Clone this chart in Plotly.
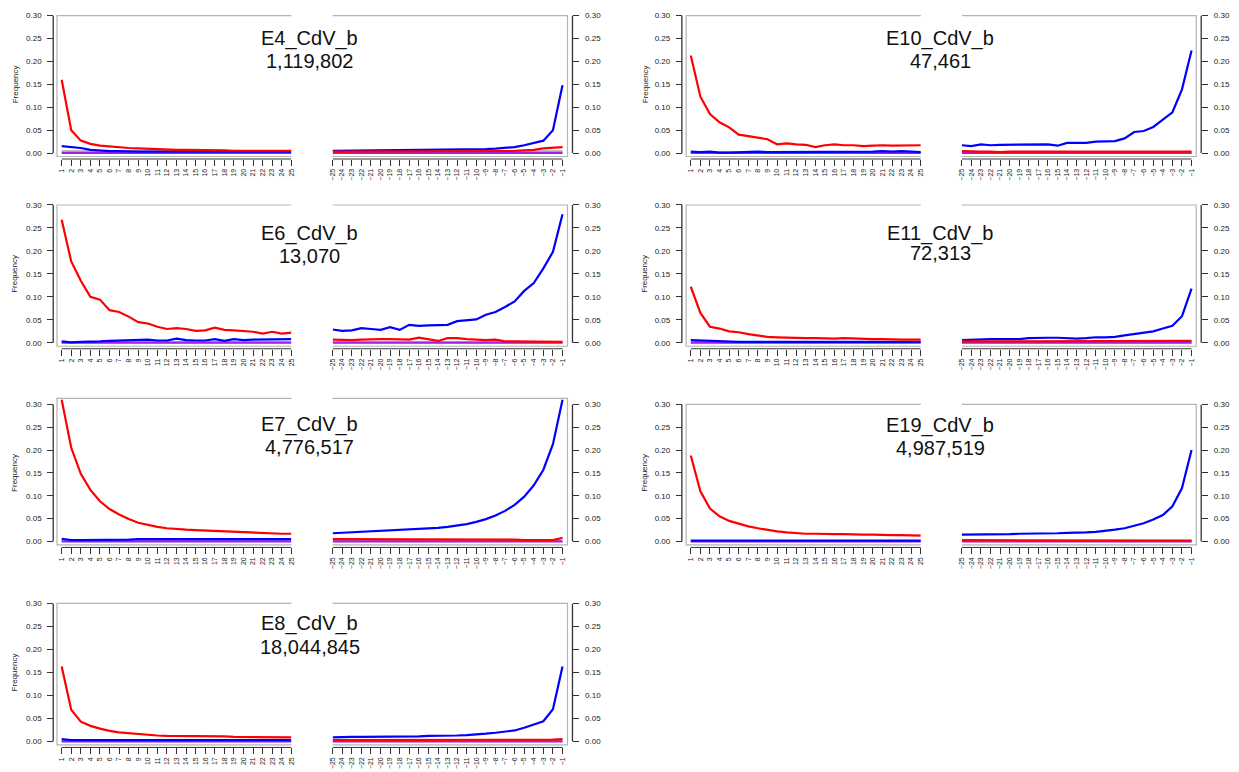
import plotly.graph_objects as go

# ---------------- data ----------------
pos_5p = [1, 2, 3, 4, 5, 6, 7, 8, 9, 10, 11, 12, 13, 14, 15, 16, 17, 18, 19, 20, 21, 22, 23, 24, 25]
pos_3p = [-25, -24, -23, -22, -21, -20, -19, -18, -17, -16, -15, -14, -13, -12, -11, -10, -9, -8, -7, -6, -5, -4, -3, -2, -1]
labels_5p = [str(v) for v in pos_5p]
labels_3p = ["\u2212" + str(-v) for v in pos_3p]
y_ticks = [0.0, 0.05, 0.10, 0.15, 0.20, 0.25, 0.30]
y_ticklabels = ["0.00", "0.05", "0.10", "0.15", "0.20", "0.25", "0.30"]

sample_names = ["E4_CdV_b", "E10_CdV_b", "E6_CdV_b", "E11_CdV_b", "E7_CdV_b", "E19_CdV_b", "E8_CdV_b"]
read_counts = ["1,119,802", "47,461", "13,070", "72,313", "4,776,517", "4,987,519", "18,044,845"]

# E4
e4_red_5p = [0.160, 0.050, 0.027, 0.020, 0.016, 0.014, 0.012, 0.011, 0.010, 0.009, 0.008, 0.008, 0.007, 0.007, 0.007, 0.006, 0.006, 0.006, 0.005, 0.005, 0.005, 0.005, 0.005, 0.005, 0.005]
e4_blue_5p = [0.015, 0.013, 0.011, 0.007, 0.005, 0.004, 0.004, 0.003, 0.003, 0.003, 0.003, 0.003, 0.003, 0.003, 0.003, 0.003, 0.003, 0.003, 0.003, 0.003, 0.003, 0.003, 0.003, 0.003, 0.003]
e4_grey_5p = [0.004, 0.004, 0.004, 0.004, 0.004, 0.004, 0.004, 0.004, 0.004, 0.004, 0.004, 0.004, 0.004, 0.004, 0.004, 0.004, 0.004, 0.004, 0.004, 0.004, 0.004, 0.004, 0.004, 0.004, 0.004]
e4_purple_5p = [0.0004, 0.0004, 0.0004, 0.0004, 0.0004, 0.0004, 0.0004, 0.0004, 0.0004, 0.0004, 0.0004, 0.0004, 0.0004, 0.0004, 0.0004, 0.0004, 0.0004, 0.0004, 0.0004, 0.0004, 0.0004, 0.0004, 0.0004, 0.0004, 0.0004]
e4_red_3p = [0.003, 0.003, 0.003, 0.003, 0.003, 0.003, 0.003, 0.003, 0.003, 0.003, 0.003, 0.003, 0.003, 0.003, 0.003, 0.003, 0.003, 0.003, 0.004, 0.0045, 0.006, 0.007, 0.010, 0.012, 0.013]
e4_blue_3p = [0.0045, 0.0047, 0.0048, 0.005, 0.005, 0.0052, 0.0053, 0.0055, 0.0056, 0.0058, 0.006, 0.0062, 0.0065, 0.0068, 0.007, 0.0075, 0.0085, 0.0095, 0.011, 0.013, 0.017, 0.022, 0.027, 0.050, 0.148]
e4_grey_3p = [0.004, 0.004, 0.004, 0.004, 0.004, 0.004, 0.004, 0.004, 0.004, 0.004, 0.004, 0.004, 0.004, 0.004, 0.004, 0.004, 0.004, 0.004, 0.004, 0.004, 0.004, 0.004, 0.004, 0.004, 0.004]
e4_purple_3p = [0.0004, 0.0004, 0.0004, 0.0004, 0.0004, 0.0004, 0.0004, 0.0004, 0.0004, 0.0004, 0.0004, 0.0004, 0.0004, 0.0004, 0.0004, 0.0004, 0.0004, 0.0004, 0.0004, 0.0004, 0.0004, 0.0004, 0.0004, 0.0004, 0.0004]

# E10
e10_red_5p = [0.213, 0.123, 0.085, 0.067, 0.056, 0.040, 0.037, 0.033, 0.030, 0.019, 0.021, 0.019, 0.018, 0.013, 0.017, 0.019, 0.017, 0.017, 0.015, 0.016, 0.017, 0.016, 0.016, 0.017, 0.017]
e10_blue_5p = [0.003, 0.002, 0.003, 0.001, 0.001, 0.002, 0.002, 0.003, 0.002, 0.002, 0.002, 0.003, 0.003, 0.002, 0.003, 0.003, 0.002, 0.002, 0.003, 0.003, 0.004, 0.003, 0.004, 0.003, 0.002]
e10_grey_5p = [0.001, 0.001, 0.001, 0.001, 0.001, 0.001, 0.001, 0.001, 0.001, 0.001, 0.001, 0.001, 0.001, 0.001, 0.001, 0.001, 0.001, 0.001, 0.001, 0.001, 0.001, 0.001, 0.001, 0.001, 0.001]
e10_purple_5p = [0.0003, 0.0003, 0.0003, 0.0003, 0.0003, 0.0003, 0.0003, 0.0003, 0.0003, 0.0003, 0.0003, 0.0003, 0.0003, 0.0003, 0.0003, 0.0003, 0.0003, 0.0003, 0.0003, 0.0003, 0.0003, 0.0003, 0.0003, 0.0003, 0.0003]
e10_red_3p = [0.004, 0.003, 0.003, 0.003, 0.002, 0.003, 0.003, 0.002, 0.003, 0.003, 0.003, 0.003, 0.003, 0.003, 0.002, 0.003, 0.003, 0.002, 0.002, 0.002, 0.002, 0.002, 0.002, 0.002, 0.003]
e10_blue_3p = [0.017, 0.015, 0.019, 0.017, 0.018, 0.018, 0.019, 0.019, 0.018, 0.019, 0.016, 0.022, 0.022, 0.022, 0.025, 0.025, 0.026, 0.032, 0.046, 0.048, 0.057, 0.073, 0.089, 0.139, 0.224]
e10_grey_3p = [0.001, 0.001, 0.001, 0.001, 0.001, 0.001, 0.001, 0.001, 0.001, 0.001, 0.001, 0.001, 0.001, 0.001, 0.001, 0.001, 0.001, 0.001, 0.001, 0.001, 0.001, 0.001, 0.001, 0.001, 0.001]
e10_purple_3p = [0.0003, 0.0003, 0.0003, 0.0003, 0.0003, 0.0003, 0.0003, 0.0003, 0.0003, 0.0003, 0.0003, 0.0003, 0.0003, 0.0003, 0.0003, 0.0003, 0.0003, 0.0003, 0.0003, 0.0003, 0.0003, 0.0003, 0.0003, 0.0003, 0.0003]

# E6
e6_red_5p = [0.268, 0.177, 0.135, 0.100, 0.094, 0.071, 0.067, 0.057, 0.045, 0.042, 0.035, 0.030, 0.032, 0.030, 0.026, 0.027, 0.033, 0.028, 0.027, 0.025, 0.024, 0.020, 0.024, 0.020, 0.022]
e6_blue_5p = [0.003, 0.001, 0.002, 0.002, 0.003, 0.004, 0.005, 0.005, 0.006, 0.007, 0.005, 0.005, 0.009, 0.006, 0.005, 0.005, 0.008, 0.004, 0.008, 0.006, 0.007, 0.007, 0.008, 0.008, 0.008]
e6_grey_5p = [0.0008, 0.0008, 0.0008, 0.0008, 0.0008, 0.0008, 0.0008, 0.0008, 0.0008, 0.0008, 0.0008, 0.0008, 0.0008, 0.0008, 0.0008, 0.0008, 0.0008, 0.0008, 0.0008, 0.0008, 0.0008, 0.0008, 0.0008, 0.0008, 0.0008]
e6_purple_5p = [0.0002, 0.0002, 0.0002, 0.0002, 0.0002, 0.0002, 0.0002, 0.0002, 0.0002, 0.0002, 0.0002, 0.0002, 0.0002, 0.0002, 0.0002, 0.0002, 0.0002, 0.0002, 0.0002, 0.0002, 0.0002, 0.0002, 0.0002, 0.0002, 0.0002]
e6_red_3p = [0.007, 0.006, 0.006, 0.007, 0.008, 0.008, 0.008, 0.007, 0.007, 0.011, 0.007, 0.004, 0.010, 0.010, 0.008, 0.007, 0.006, 0.007, 0.003, 0.003, 0.003, 0.003, 0.002, 0.002, 0.002]
e6_blue_3p = [0.029, 0.026, 0.027, 0.032, 0.030, 0.028, 0.034, 0.028, 0.039, 0.037, 0.038, 0.038, 0.039, 0.047, 0.049, 0.051, 0.061, 0.067, 0.078, 0.090, 0.113, 0.130, 0.162, 0.198, 0.280]
e6_grey_3p = [0.0008, 0.0008, 0.0008, 0.0008, 0.0008, 0.0008, 0.0008, 0.0008, 0.0008, 0.0008, 0.0008, 0.0008, 0.0008, 0.0008, 0.0008, 0.0008, 0.0008, 0.0008, 0.0008, 0.0008, 0.0008, 0.0008, 0.0008, 0.0008, 0.0008]
e6_purple_3p = [0.0002, 0.0002, 0.0002, 0.0002, 0.0002, 0.0002, 0.0002, 0.0002, 0.0002, 0.0002, 0.0002, 0.0002, 0.0002, 0.0002, 0.0002, 0.0002, 0.0002, 0.0002, 0.0002, 0.0002, 0.0002, 0.0002, 0.0002, 0.0002, 0.0002]

# E11
e11_red_5p = [0.122, 0.065, 0.035, 0.031, 0.025, 0.023, 0.019, 0.016, 0.013, 0.012, 0.011, 0.011, 0.010, 0.010, 0.009, 0.009, 0.010, 0.009, 0.008, 0.008, 0.008, 0.007, 0.007, 0.007, 0.007]
e11_blue_5p = [0.006, 0.005, 0.004, 0.003, 0.003, 0.002, 0.002, 0.002, 0.002, 0.002, 0.002, 0.002, 0.002, 0.002, 0.002, 0.002, 0.002, 0.002, 0.002, 0.002, 0.002, 0.002, 0.002, 0.002, 0.002]
e11_grey_5p = [0.001, 0.001, 0.001, 0.001, 0.001, 0.001, 0.001, 0.001, 0.001, 0.001, 0.001, 0.001, 0.001, 0.001, 0.001, 0.001, 0.001, 0.001, 0.001, 0.001, 0.001, 0.001, 0.001, 0.001, 0.001]
e11_purple_5p = [0.0003, 0.0003, 0.0003, 0.0003, 0.0003, 0.0003, 0.0003, 0.0003, 0.0003, 0.0003, 0.0003, 0.0003, 0.0003, 0.0003, 0.0003, 0.0003, 0.0003, 0.0003, 0.0003, 0.0003, 0.0003, 0.0003, 0.0003, 0.0003, 0.0003]
e11_red_3p = [0.003, 0.003, 0.003, 0.003, 0.003, 0.003, 0.003, 0.003, 0.003, 0.003, 0.003, 0.003, 0.003, 0.003, 0.003, 0.003, 0.003, 0.003, 0.003, 0.003, 0.003, 0.004, 0.004, 0.004, 0.004]
e11_blue_3p = [0.006, 0.007, 0.007, 0.008, 0.008, 0.008, 0.008, 0.010, 0.011, 0.011, 0.011, 0.010, 0.009, 0.010, 0.012, 0.012, 0.013, 0.016, 0.019, 0.021, 0.025, 0.031, 0.037, 0.058, 0.118]
e11_grey_3p = [0.001, 0.001, 0.001, 0.001, 0.001, 0.001, 0.001, 0.001, 0.001, 0.001, 0.001, 0.001, 0.001, 0.001, 0.001, 0.001, 0.001, 0.001, 0.001, 0.001, 0.001, 0.001, 0.001, 0.001, 0.001]
e11_purple_3p = [0.0003, 0.0003, 0.0003, 0.0003, 0.0003, 0.0003, 0.0003, 0.0003, 0.0003, 0.0003, 0.0003, 0.0003, 0.0003, 0.0003, 0.0003, 0.0003, 0.0003, 0.0003, 0.0003, 0.0003, 0.0003, 0.0003, 0.0003, 0.0003, 0.0003]

# E7
e7_red_5p = [0.310, 0.205, 0.148, 0.113, 0.088, 0.071, 0.059, 0.049, 0.041, 0.036, 0.032, 0.029, 0.027, 0.026, 0.025, 0.024, 0.023, 0.022, 0.021, 0.021, 0.020, 0.019, 0.018, 0.017, 0.017]
e7_blue_5p = [0.006, 0.003, 0.003, 0.003, 0.003, 0.004, 0.004, 0.004, 0.005, 0.005, 0.005, 0.005, 0.005, 0.005, 0.005, 0.005, 0.005, 0.005, 0.005, 0.005, 0.005, 0.005, 0.005, 0.005, 0.005]
e7_grey_5p = [0.001, 0.001, 0.001, 0.001, 0.001, 0.001, 0.001, 0.001, 0.001, 0.001, 0.001, 0.001, 0.001, 0.001, 0.001, 0.001, 0.001, 0.001, 0.001, 0.001, 0.001, 0.001, 0.001, 0.001, 0.001]
e7_purple_5p = [0.0003, 0.0003, 0.0003, 0.0003, 0.0003, 0.0003, 0.0003, 0.0003, 0.0003, 0.0003, 0.0003, 0.0003, 0.0003, 0.0003, 0.0003, 0.0003, 0.0003, 0.0003, 0.0003, 0.0003, 0.0003, 0.0003, 0.0003, 0.0003, 0.0003]
e7_red_3p = [0.005, 0.005, 0.005, 0.005, 0.005, 0.005, 0.005, 0.005, 0.005, 0.005, 0.005, 0.005, 0.005, 0.005, 0.005, 0.005, 0.005, 0.004, 0.004, 0.004, 0.003, 0.003, 0.003, 0.003, 0.008]
e7_blue_3p = [0.018, 0.019, 0.020, 0.021, 0.022, 0.023, 0.024, 0.025, 0.026, 0.027, 0.028, 0.030, 0.032, 0.035, 0.038, 0.043, 0.049, 0.057, 0.067, 0.080, 0.098, 0.123, 0.157, 0.213, 0.310]
e7_grey_3p = [0.001, 0.001, 0.001, 0.001, 0.001, 0.001, 0.001, 0.001, 0.001, 0.001, 0.001, 0.001, 0.001, 0.001, 0.001, 0.001, 0.001, 0.001, 0.001, 0.001, 0.001, 0.001, 0.001, 0.001, 0.001]
e7_purple_3p = [0.0003, 0.0003, 0.0003, 0.0003, 0.0003, 0.0003, 0.0003, 0.0003, 0.0003, 0.0003, 0.0003, 0.0003, 0.0003, 0.0003, 0.0003, 0.0003, 0.0003, 0.0003, 0.0003, 0.0003, 0.0003, 0.0003, 0.0003, 0.0003, 0.0003]

# E19
e19_red_5p = [0.188, 0.110, 0.072, 0.055, 0.045, 0.039, 0.033, 0.029, 0.025, 0.022, 0.020, 0.018, 0.017, 0.017, 0.016, 0.016, 0.016, 0.015, 0.015, 0.015, 0.014, 0.014, 0.014, 0.013, 0.013]
e19_blue_5p = [0.002, 0.002, 0.002, 0.002, 0.002, 0.002, 0.002, 0.002, 0.002, 0.002, 0.002, 0.002, 0.002, 0.002, 0.002, 0.002, 0.002, 0.002, 0.002, 0.002, 0.002, 0.002, 0.002, 0.002, 0.002]
e19_grey_5p = [0.001, 0.001, 0.001, 0.001, 0.001, 0.001, 0.001, 0.001, 0.001, 0.001, 0.001, 0.001, 0.001, 0.001, 0.001, 0.001, 0.001, 0.001, 0.001, 0.001, 0.001, 0.001, 0.001, 0.001, 0.001]
e19_purple_5p = [0.0003, 0.0003, 0.0003, 0.0003, 0.0003, 0.0003, 0.0003, 0.0003, 0.0003, 0.0003, 0.0003, 0.0003, 0.0003, 0.0003, 0.0003, 0.0003, 0.0003, 0.0003, 0.0003, 0.0003, 0.0003, 0.0003, 0.0003, 0.0003, 0.0003]
e19_red_3p = [0.003, 0.003, 0.003, 0.003, 0.003, 0.003, 0.003, 0.003, 0.003, 0.003, 0.003, 0.003, 0.003, 0.003, 0.003, 0.003, 0.003, 0.003, 0.002, 0.002, 0.002, 0.002, 0.002, 0.002, 0.002]
e19_blue_3p = [0.015, 0.015, 0.015, 0.015, 0.016, 0.016, 0.017, 0.017, 0.017, 0.017, 0.018, 0.019, 0.019, 0.020, 0.021, 0.023, 0.026, 0.029, 0.034, 0.040, 0.048, 0.058, 0.077, 0.117, 0.200]
e19_grey_3p = [0.001, 0.001, 0.001, 0.001, 0.001, 0.001, 0.001, 0.001, 0.001, 0.001, 0.001, 0.001, 0.001, 0.001, 0.001, 0.001, 0.001, 0.001, 0.001, 0.001, 0.001, 0.001, 0.001, 0.001, 0.001]
e19_purple_3p = [0.0003, 0.0003, 0.0003, 0.0003, 0.0003, 0.0003, 0.0003, 0.0003, 0.0003, 0.0003, 0.0003, 0.0003, 0.0003, 0.0003, 0.0003, 0.0003, 0.0003, 0.0003, 0.0003, 0.0003, 0.0003, 0.0003, 0.0003, 0.0003, 0.0003]

# E8
e8_red_5p = [0.163, 0.069, 0.043, 0.034, 0.028, 0.023, 0.020, 0.018, 0.016, 0.014, 0.013, 0.012, 0.012, 0.011, 0.011, 0.011, 0.011, 0.011, 0.010, 0.010, 0.010, 0.010, 0.010, 0.009, 0.009]
e8_blue_5p = [0.005, 0.003, 0.003, 0.003, 0.003, 0.003, 0.003, 0.003, 0.003, 0.003, 0.003, 0.003, 0.003, 0.003, 0.003, 0.003, 0.003, 0.003, 0.003, 0.003, 0.003, 0.003, 0.003, 0.003, 0.003]
e8_grey_5p = [0.001, 0.001, 0.001, 0.001, 0.001, 0.001, 0.001, 0.001, 0.001, 0.001, 0.001, 0.001, 0.001, 0.001, 0.001, 0.001, 0.001, 0.001, 0.001, 0.001, 0.001, 0.001, 0.001, 0.001, 0.001]
e8_purple_5p = [0.0003, 0.0003, 0.0003, 0.0003, 0.0003, 0.0003, 0.0003, 0.0003, 0.0003, 0.0003, 0.0003, 0.0003, 0.0003, 0.0003, 0.0003, 0.0003, 0.0003, 0.0003, 0.0003, 0.0003, 0.0003, 0.0003, 0.0003, 0.0003, 0.0003]
e8_red_3p = [0.003, 0.003, 0.003, 0.003, 0.003, 0.003, 0.003, 0.003, 0.003, 0.003, 0.003, 0.003, 0.003, 0.003, 0.003, 0.003, 0.003, 0.003, 0.003, 0.003, 0.003, 0.003, 0.003, 0.004, 0.005]
e8_blue_3p = [0.009, 0.010, 0.010, 0.010, 0.010, 0.011, 0.011, 0.011, 0.011, 0.011, 0.012, 0.012, 0.012, 0.013, 0.014, 0.015, 0.017, 0.019, 0.021, 0.024, 0.030, 0.037, 0.044, 0.070, 0.163]
e8_grey_3p = [0.001, 0.001, 0.001, 0.001, 0.001, 0.001, 0.001, 0.001, 0.001, 0.001, 0.001, 0.001, 0.001, 0.001, 0.001, 0.001, 0.001, 0.001, 0.001, 0.001, 0.001, 0.001, 0.001, 0.001, 0.001]
e8_purple_3p = [0.0003, 0.0003, 0.0003, 0.0003, 0.0003, 0.0003, 0.0003, 0.0003, 0.0003, 0.0003, 0.0003, 0.0003, 0.0003, 0.0003, 0.0003, 0.0003, 0.0003, 0.0003, 0.0003, 0.0003, 0.0003, 0.0003, 0.0003, 0.0003, 0.0003]

panel_series = [
    (e4_grey_5p, e4_purple_5p, e4_blue_5p, e4_red_5p, e4_grey_3p, e4_purple_3p, e4_blue_3p, e4_red_3p),
    (e10_grey_5p, e10_purple_5p, e10_blue_5p, e10_red_5p, e10_grey_3p, e10_purple_3p, e10_blue_3p, e10_red_3p),
    (e6_grey_5p, e6_purple_5p, e6_blue_5p, e6_red_5p, e6_grey_3p, e6_purple_3p, e6_blue_3p, e6_red_3p),
    (e11_grey_5p, e11_purple_5p, e11_blue_5p, e11_red_5p, e11_grey_3p, e11_purple_3p, e11_blue_3p, e11_red_3p),
    (e7_grey_5p, e7_purple_5p, e7_blue_5p, e7_red_5p, e7_grey_3p, e7_purple_3p, e7_blue_3p, e7_red_3p),
    (e19_grey_5p, e19_purple_5p, e19_blue_5p, e19_red_5p, e19_grey_3p, e19_purple_3p, e19_blue_3p, e19_red_3p),
    (e8_grey_5p, e8_purple_5p, e8_blue_5p, e8_red_5p, e8_grey_3p, e8_purple_3p, e8_blue_3p, e8_red_3p),
]

# ---------------- geometry (pixels) ----------------
W, H = 1239, 772
FONT = "Liberation Sans, Arial, Helvetica, sans-serif"
series_colors = ["#bebebe", "#a020f0", "#0000ff", "#ff0000"]
BOX_COLOR = "#b4b4b4"
AXIS_COLOR = "#333333"

# column: (axisL, boxL, x1, x25, rightStart(-25), x-1, boxR, axisR, title_x, freq_x)
cols = [
    (49.5, 53.3, 58.0, 289.0, 330.5, 561.7, 566.7, 571.7, 307.5, 14.0),
    (681.7, 686.0, 690.7, 922.0, 963.3, 1194.3, 1199.0, 1204.0, 941.5, 647.5),
]
# row: (y at 0.00, y at 0.30)
rows = [(150.0, 11.7), (341.0, 202.3), (541.0, 403.0), (742.3, 603.3)]
panel_pos = [(0, 0), (0, 1), (1, 0), (1, 1), (2, 0), (2, 1), (3, 0)]
panel_ymax = [0.30, 0.30, 0.30, 0.30, 0.313, 0.30, 0.30]
title_y = [(35, 57), (35, 57), (231, 254), (231, 251), (423, 446), (424, 447), (624, 647)]


def px(x):
    return x / W


def py(y):
    return 1 - y / H


fig = go.Figure()
layout = dict(
    width=W, height=H, margin=dict(l=0, r=0, t=0, b=0),
    paper_bgcolor="white", plot_bgcolor="white", showlegend=False,
    font=dict(family=FONT, color="#222"),
)
shapes = []
annotations = []


def ax_name(kind, i):
    return kind if i == 1 else f"{kind}{i}"


for k, (r, c) in enumerate(panel_pos):
    axL, boxL, x1, x25, rS, xm1, boxR, axR, tx, fx = cols[c]
    y0, y30 = rows[r]
    ppu_y = (y0 - y30) / 0.30
    ymax = panel_ymax[k]
    top_px = y30 - (ymax - 0.30) * ppu_y
    bot_px = y0 + 3.5
    ymin = -(bot_px - y0) / ppu_y
    ppu_x = (x25 - x1) / 24.0

    iL, iR = 2 * k + 1, 2 * k + 2
    xl_rng = [1 - (x1 - boxL) / ppu_x, 25]
    xr_rng = [-25, -1 + (boxR - xm1) / ppu_x]

    common_x = dict(
        anchor="free", position=py(y0 + 6), showgrid=False, zeroline=False, showline=False,
        ticks="outside", ticklen=6, tickwidth=1, tickcolor=AXIS_COLOR, tickangle=-90,
        tickfont=dict(size=7, color="#222", family=FONT), tickmode="array", fixedrange=True,
    )
    layout[ax_name("xaxis", iL)] = dict(common_x, domain=[px(boxL), px(x25)], range=xl_rng,
                                        tickvals=pos_5p, ticktext=labels_5p)
    layout[ax_name("xaxis", iR)] = dict(common_x, domain=[px(rS), px(boxR)], range=xr_rng,
                                        tickvals=pos_3p, ticktext=labels_3p)
    common_y = dict(
        anchor="free", showgrid=False, zeroline=False, showline=False,
        ticks="outside", ticklen=6, tickwidth=1, tickcolor=AXIS_COLOR,
        tickfont=dict(size=8, color="#222", family=FONT), tickmode="array",
        tickvals=y_ticks, ticktext=y_ticklabels, range=[ymin, ymax],
        domain=[py(bot_px), py(top_px)], fixedrange=True, ticklabelstandoff=4,
    )
    layout[ax_name("yaxis", iL)] = dict(common_y, side="left", position=px(axL))
    layout[ax_name("yaxis", iR)] = dict(common_y, side="right", position=px(axR))

    xl, xr = ax_name("x", iL), ax_name("x", iR)
    yl, yr = ax_name("y", iL), ax_name("y", iR)
    ser = panel_series[k]
    for j in range(4):
        fig.add_trace(go.Scatter(x=pos_5p, y=ser[j], xaxis=xl, yaxis=yl, mode="lines",
                                 line=dict(color=series_colors[j], width=2.2), hoverinfo="skip"))
    for j in range(4):
        fig.add_trace(go.Scatter(x=pos_3p, y=ser[4 + j], xaxis=xr, yaxis=yr, mode="lines",
                                 line=dict(color=series_colors[j], width=2.2), hoverinfo="skip"))

    # boxes (three-sided)
    shapes.append(dict(type="path", xref="paper", yref="paper", layer="below",
                       path=f"M {px(x25)},{py(top_px)} L {px(boxL)},{py(top_px)} L {px(boxL)},{py(bot_px)} L {px(x25)},{py(bot_px)}",
                       line=dict(color=BOX_COLOR, width=1.2)))
    shapes.append(dict(type="path", xref="paper", yref="paper", layer="below",
                       path=f"M {px(rS)},{py(top_px)} L {px(boxR)},{py(top_px)} L {px(boxR)},{py(bot_px)} L {px(rS)},{py(bot_px)}",
                       line=dict(color=BOX_COLOR, width=1.2)))
    # axis lines
    shapes.append(dict(type="line", xref="paper", yref=yl, x0=px(axL), x1=px(axL), y0=0, y1=0.30,
                       line=dict(color=AXIS_COLOR, width=1.3)))
    shapes.append(dict(type="line", xref="paper", yref=yr, x0=px(axR), x1=px(axR), y0=0, y1=0.30,
                       line=dict(color=AXIS_COLOR, width=1.3)))
    shapes.append(dict(type="line", xref=xl, yref="paper", x0=1, x1=25, y0=py(y0 + 6), y1=py(y0 + 6),
                       line=dict(color=AXIS_COLOR, width=1.0)))
    shapes.append(dict(type="line", xref=xr, yref="paper", x0=-25, x1=-1, y0=py(y0 + 6), y1=py(y0 + 6),
                       line=dict(color=AXIS_COLOR, width=1.0)))

    # titles
    annotations.append(dict(text=sample_names[k], xref="paper", yref="paper", x=px(tx), y=py(title_y[k][0]),
                            xanchor="center", yanchor="middle", showarrow=False,
                            font=dict(size=20, color="#111", family=FONT)))
    annotations.append(dict(text=read_counts[k], xref="paper", yref="paper", x=px(tx), y=py(title_y[k][1]),
                            xanchor="center", yanchor="middle", showarrow=False,
                            font=dict(size=20, color="#111", family=FONT)))
    annotations.append(dict(text="Frequency", xref="paper", yref="paper", x=px(fx - 3), y=py((y0 + y30) / 2),
                            xanchor="center", yanchor="middle", showarrow=False, textangle=-90,
                            font=dict(size=8, color="#222", family=FONT)))

layout["shapes"] = shapes
layout["annotations"] = annotations
fig.update_layout(**layout)
fig.write_html(
    "out.html",
    config={"displayModeBar": False, "staticPlot": True},
    post_script="document.body.style.margin='0';document.body.style.padding='0';document.body.style.overflow='hidden';",
)
